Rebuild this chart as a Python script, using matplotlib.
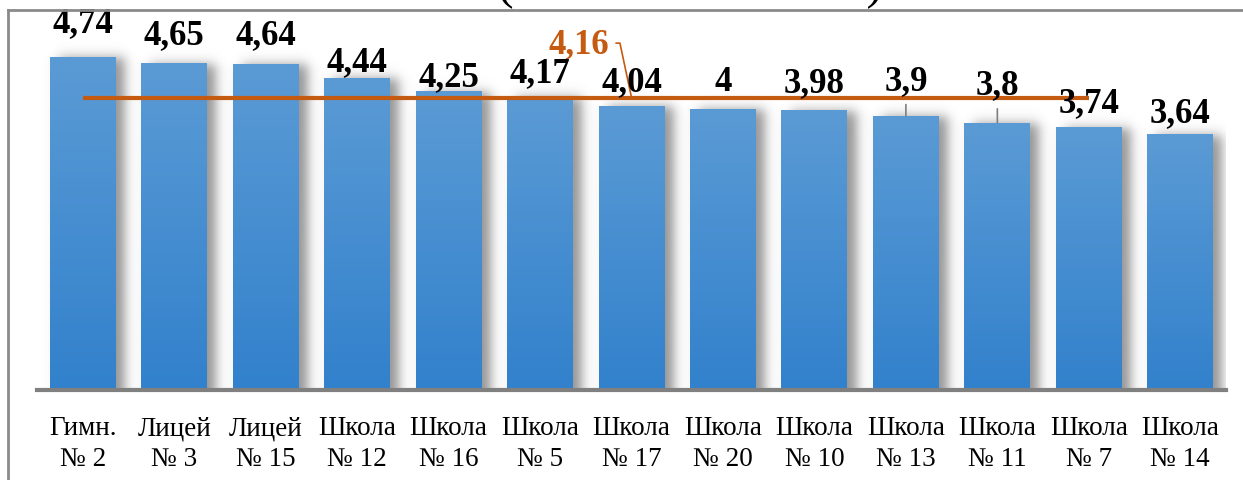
import numpy as np
import matplotlib
matplotlib.use('Agg')
import matplotlib.pyplot as plt
from matplotlib.lines import Line2D

plt.rcParams['font.family'] = ['Liberation Serif', 'DejaVu Serif']

# данные
schools = ['Гимн.\n№ 2', 'Лицей\n№ 3', 'Лицей\n№ 15', 'Школа\n№ 12', 'Школа\n№ 16',
           'Школа\n№ 5', 'Школа\n№ 17', 'Школа\n№ 20', 'Школа\n№ 10', 'Школа\n№ 13',
           'Школа\n№ 11', 'Школа\n№ 7', 'Школа\n№ 14']
scores = [4.74, 4.65, 4.64, 4.44, 4.25, 4.17, 4.04, 4.0, 3.98, 3.9, 3.8, 3.74, 3.64]
avg_score = 4.16
avg_points = 12  # линия среднего идёт по первым 12 категориям
title = '(ОГЭ математика)'

# подписи значений: сдвиг над столбцом (в точках) и где нужна выноска
label_dy = [24, 20, 20, 11, 10, 17, 17, 19, 19, 25, 27, 17, 15]
leader_idx = [9, 10]

bar_top = np.array([91, 155, 213]) / 255
bar_bot = np.array([50, 129, 204]) / 255
orange = '#C55A11'


def fmt(v):
    s = ('%.2f' % v).rstrip('0').rstrip('.')
    return s.replace('.', ',')


fig = plt.figure(figsize=(12.43, 4.8), dpi=100)
ax = fig.add_axes([37 / 1243, 90 / 480, (1226 - 37) / 1243, 372.6 / 480])
x = np.arange(len(schools))
width = 0.72

px_x = 91.5   # пикселей на единицу по x
px_y = 70.3   # пикселей на единицу по y

# тени
for xi, v in zip(x, scores):
    s = 7.0
    x0 = xi - width / 2 + 9 / px_x
    x1 = xi + width / 2 + 9 / px_x
    y1 = v - 1 / px_y
    ex = [x0 - 30 / px_x, x1 + 30 / px_x, 0, v + 30 / px_y]
    gx = np.linspace(ex[0], ex[1], 120)
    gy = np.linspace(ex[2], ex[3], 300)
    fx = 0.5 * (np.tanh((gx - x0) * px_x / s) - np.tanh((gx - x1) * px_x / s))
    fy = 0.5 * (1 - np.tanh((gy - y1) * px_y / s))
    a = 0.65 * np.outer(fy, fx)
    img = np.zeros((len(gy), len(gx), 4))
    img[..., :3] = 0.35
    img[..., 3] = a
    ax.imshow(img, extent=ex, origin='lower', aspect='auto',
              interpolation='bilinear', zorder=1)

bars = ax.bar(x, scores, width=width, color='none', edgecolor='none', zorder=2)
grad = np.linspace(0, 1, 256)[:, None, None]
grad = bar_bot + (bar_top - bar_bot) * grad
for b in bars:
    bx, by = b.get_x(), b.get_y()
    im = ax.imshow(grad, extent=[bx, bx + b.get_width(), by, by + b.get_height()],
                   origin='lower', aspect='auto', zorder=2)
    im.set_clip_path(b)

# линия среднего
ax.plot(x[:avg_points], [avg_score] * avg_points, color=orange, lw=3, zorder=4,
        solid_capstyle='butt')
ax.annotate(fmt(avg_score), xy=(x[6], avg_score), xytext=(-38, 38),
            textcoords='offset points', ha='center', va='center',
            fontsize=25, fontweight='bold', color=orange, zorder=5,
            arrowprops=dict(arrowstyle='-', color=orange, lw=1.2,
                            connectionstyle='angle,angleA=0,angleB=102,rad=0',
                            relpos=(1, 0.55), shrinkA=3, shrinkB=0))

# подписи
for i, (xi, v) in enumerate(zip(x, scores)):
    kw = {}
    if i in leader_idx:
        kw['arrowprops'] = dict(arrowstyle='-', color='#7f7f7f', lw=1.2,
                                shrinkA=3, shrinkB=0)
    ax.annotate(fmt(v), xy=(xi, v), xytext=(0, label_dy[i]),
                textcoords='offset points', ha='center', va='center',
                fontsize=25, fontweight='bold', color='black', zorder=6, **kw)

ax.set_xlim(-0.5, len(schools) - 0.5)
ax.set_ylim(0, 5.3)
ax.set_xticks(x)
ax.set_xticklabels(schools, fontsize=19.5, linespacing=1.3)
ax.tick_params(axis='x', length=0, pad=19)
ax.set_yticks([])
for sp in ['top', 'right', 'left']:
    ax.spines[sp].set_visible(False)
ax.spines['bottom'].set_color('#808080')
ax.spines['bottom'].set_linewidth(3)
ax.spines['bottom'].set_zorder(7)
ax.patch.set_alpha(0)

# рамка и заголовок (обрезанный сверху)
fig.add_artist(Line2D([8 / 1243, 1], [1 - 10 / 480] * 2, transform=fig.transFigure,
                      color='#8a8a8a', lw=2))
fig.add_artist(Line2D([8 / 1243] * 2, [0, 1 - 10 / 480], transform=fig.transFigure,
                      color='#8a8a8a', lw=2))
fig.text(0.555, 1.0 + 2 / 480, title, ha='center', va='baseline', fontsize=36)

fig.savefig('out.png', dpi=100, facecolor='white')
